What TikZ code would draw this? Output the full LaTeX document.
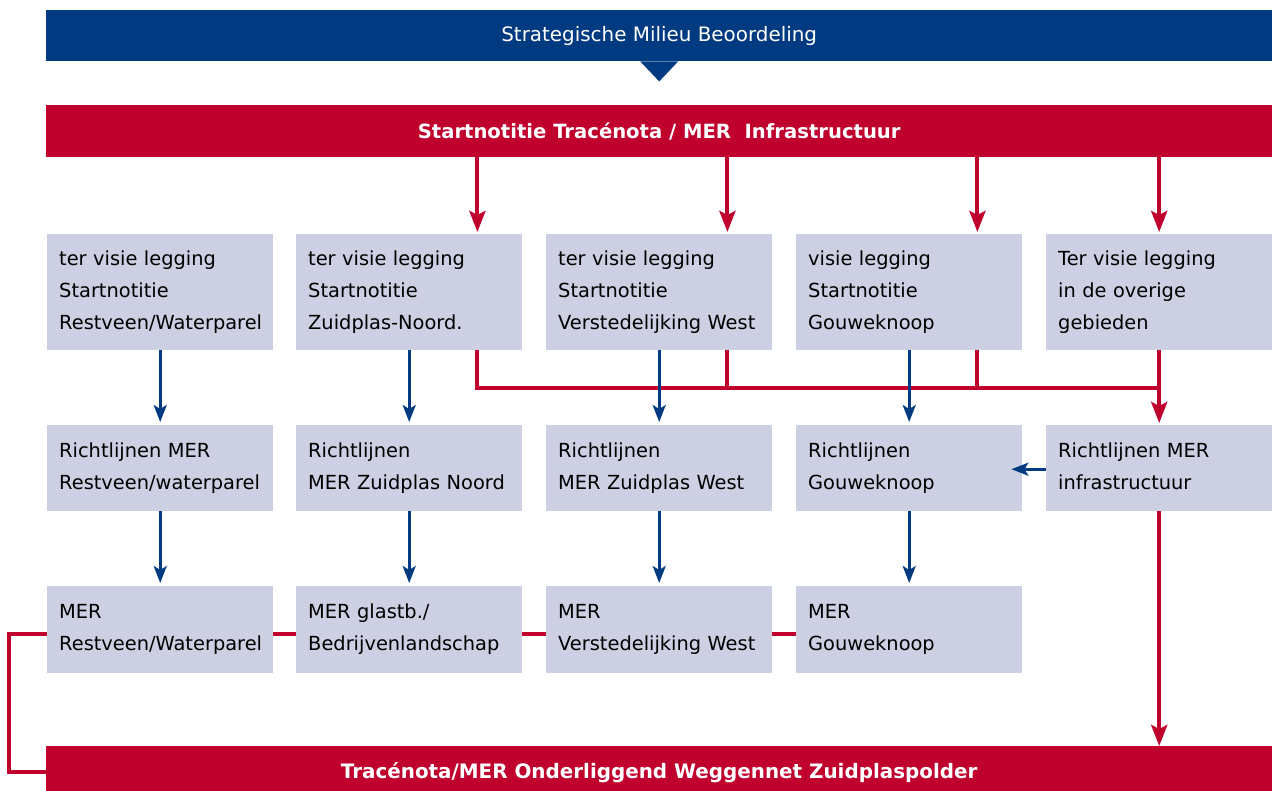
\documentclass[tikz,border=0pt]{standalone}
\usepackage{fontspec}
\setmainfont{DejaVu Sans}
\usetikzlibrary{arrows.meta}
\definecolor{smblue}{RGB}{0,58,128}
\definecolor{smred}{RGB}{192,0,45}
\definecolor{boxfill}{RGB}{205,207,227}
\newcommand{\boxfont}{\fontsize{19.4}{32}\selectfont\hyphenpenalty=10000\relax\exhyphenpenalty=10000\relax}
\newcommand{\bs}{\rule[-11pt]{0pt}{32pt}}
\begin{document}
\begin{tikzpicture}[x=1pt,y=-1pt,
  box/.style={fill=boxfill, anchor=north west, minimum width=226pt, text width=202pt,
    inner xsep=12pt, inner ysep=0pt, align=left, text=black, font=\boxfont},
  banner/.style={anchor=north west, minimum width=1226pt, inner sep=0pt, text=white},
  redline/.style={draw=smred, line width=4pt},
  blueline/.style={draw=smblue, line width=2.7pt},
  redarr/.style={redline, shorten >=2pt, -{Stealth[length=21pt,width=16pt,inset=4pt]}},
  bluearr/.style={blueline, shorten >=3pt, -{Stealth[length=17pt,width=13pt,inset=4pt]}}
]
\useasboundingbox (0,0) rectangle (1274,791);

% banners
\node[banner, fill=smblue, minimum height=51pt, font=\fontsize{19.9}{22}\selectfont] (sml) at (46,10) {Strategische Milieu Beoordeling};
\fill[smblue] ([xshift=-19pt]sml.south) -- ([yshift=-20pt]sml.south) -- ([xshift=19pt]sml.south) -- cycle;
\node[banner, fill=smred, minimum height=52pt, font=\bfseries\fontsize{19.6}{22}\selectfont] (start) at (46,105) {Startnotitie Tracénota / MER\ \ Infrastructuur};
\node[banner, fill=smred, minimum height=52pt, font=\bfseries\fontsize{19.9}{22}\selectfont] (tn) at (46,746) {Tracénota/MER Onderliggend Weggennet Zuidplaspolder};

% row 1
\node[box, minimum height=116pt] (b11) at (47,234) {\bs ter visie legging\\Startnotitie\\Restveen/Waterparel\bs};
\node[box, minimum height=116pt] (b12) at (296,234) {\bs ter visie legging\\Startnotitie\\Zuidplas-Noord.\bs};
\node[box, minimum height=116pt] (b13) at (546,234) {\bs ter visie legging\\Startnotitie\\Verstedelijking West\bs};
\node[box, minimum height=116pt] (b14) at (796,234) {\bs visie legging\\Startnotitie\\Gouweknoop\bs};
\node[box, minimum height=116pt] (b15) at (1046,234) {\bs Ter visie legging\\in de overige\\gebieden\bs};
% row 2
\node[box, minimum height=86pt] (b21) at (47,425) {\bs Richtlijnen MER\\Restveen/waterparel\bs};
\node[box, minimum height=86pt] (b22) at (296,425) {\bs Richtlijnen\\MER Zuidplas Noord\bs};
\node[box, minimum height=86pt] (b23) at (546,425) {\bs Richtlijnen\\MER Zuidplas West\bs};
\node[box, minimum height=86pt] (b24) at (796,425) {\bs Richtlijnen\\Gouweknoop\bs};
\node[box, minimum height=86pt] (b25) at (1046,425) {\bs Richtlijnen MER\\infrastructuur\bs};
% row 3
\node[box, minimum height=87pt] (b31) at (47,586) {\bs MER\\Restveen/Waterparel\bs};
\node[box, minimum height=87pt] (b32) at (296,586) {\bs MER glastb./\\Bedrijvenlandschap\bs};
\node[box, minimum height=87pt] (b33) at (546,586) {\bs MER\\Verstedelijking West\bs};
\node[box, minimum height=87pt] (b34) at (796,586) {\bs MER\\Gouweknoop\bs};

% red connectors from the start banner
\coordinate (r2) at ([xshift=-45pt]b12.north east);
\coordinate (r3) at ([xshift=-45pt]b13.north east);
\coordinate (r4) at ([xshift=-45pt]b14.north east);
\coordinate (hl) at (0,388);
\draw[redarr] (r2 |- start.south) -- (r2);
\draw[redarr] (r3 |- start.south) -- (r3);
\draw[redarr] (r4 |- start.south) -- (r4);
\draw[redarr] (b15.north |- start.south) -- (b15.north);

% red collecting line
\draw[redline] (r2 |- b12.south) |- (b15.south |- hl);
\draw[redline] (r3 |- b13.south) -- (r3 |- hl);
\draw[redline] (r4 |- b14.south) -- (r4 |- hl);
\draw[redarr] (b15.south) -- (b25.north);
\draw[redarr, shorten >=0pt] (b25.south) -- (b25.south |- tn.north);

% blue arrows
\foreach \c in {1,2,3,4}{
  \draw[bluearr] (b1\c.south) -- (b2\c.north);
  \draw[bluearr] (b2\c.south) -- (b3\c.north);
}
\draw[bluearr, shorten >=-11pt] ([yshift=-1pt]b25.west) -- ([yshift=-1pt]b24.east);

% red links on row 3
\draw[redline] ([yshift=-4pt]b31.east) -- ([yshift=-4pt]b32.west);
\draw[redline] ([yshift=-4pt]b32.east) -- ([yshift=-4pt]b33.west);
\draw[redline] ([yshift=-4pt]b33.east) -- ([yshift=-4pt]b34.west);
\draw[redline] ([yshift=-4pt]b31.west) -- ++(-38,0) |- (tn.west);
\end{tikzpicture}
\end{document}
